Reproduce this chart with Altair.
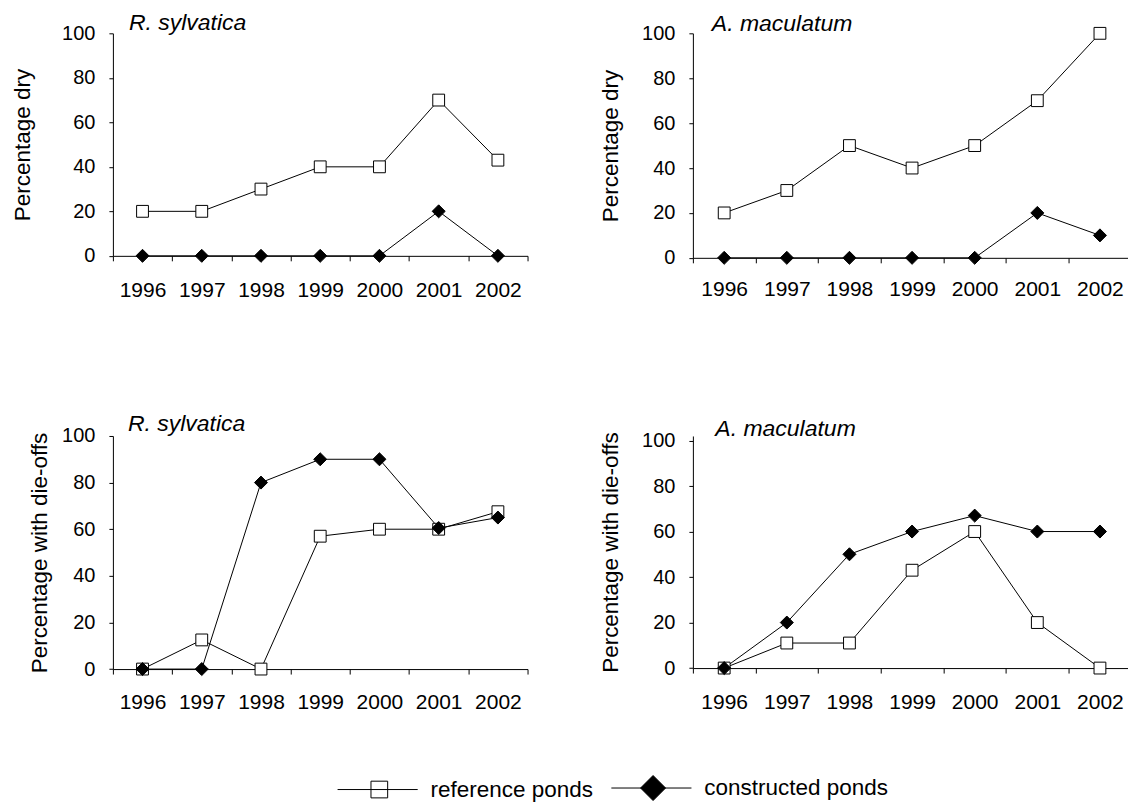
import altair as alt
import pandas as pd

# ---------------- data ----------------
years = [1996, 1997, 1998, 1999, 2000, 2001, 2002]
series_names = ["reference ponds", "constructed ponds"]
species = ["R. sylvatica", "A. maculatum"]
y_titles = ["Percentage dry", "Percentage with die-offs"]
y_ticks = [0, 20, 40, 60, 80, 100]

dry_rsyl_ref = [20, 20, 30, 40, 40, 70, 43]
dry_rsyl_con = [0, 0, 0, 0, 0, 20, 0]
dry_amac_ref = [20, 30, 50, 40, 50, 70, 100]
dry_amac_con = [0, 0, 0, 0, 0, 20, 10]
die_rsyl_ref = [0, 12.5, 0, 57, 60, 60, 67.5]
die_rsyl_con = [0, 0, 80, 90, 90, 60.5, 65]
die_amac_ref = [0, 11, 11, 43, 60, 20, 0]
die_amac_con = [0, 20, 50, 60, 67, 60, 60]

# band boundaries between years, where the x ticks sit
x_bounds = [y - 0.5 for y in years] + [years[-1] + 0.5]

FONT = "Liberation Sans"
REF_PATH = "M-5,0H4.6M-1,-1H1V1H-1Z"
CON_PATH = "M-5,0H4.6M-1.5,0L0,-1.5L1.5,0L0,1.5Z"


def panel(ref, con, title, ytitle, width, height, xmax, ymax, title_x, title_y,
          title_pad, label_pad, legend=False):
    df = pd.DataFrame({
        "year": years * 2,
        "value": ref + con,
        "series": [series_names[0]] * len(years) + [series_names[1]] * len(years),
    })
    base = alt.Chart(df)
    xscale = alt.Scale(domain=[years[0] - 0.5, xmax], nice=False, zero=False)
    # axis with the year labels (no visible ticks)
    x_lab = alt.X(
        "year:Q", scale=xscale,
        axis=alt.Axis(
            values=years, format="d", orient="bottom",
            labelOverlap=False, labelFlush=False, labelFontSize=21,
            labelPadding=label_pad, tickSize=5, tickOpacity=0, title=None,
        ),
    )
    # axis with only the boundary ticks
    x_tck = alt.X(
        "year:Q", scale=xscale,
        axis=alt.Axis(
            values=[v for v in x_bounds if v <= xmax], orient="bottom",
            labels=False, domain=False, tickSize=5, title=None,
        ),
    )
    # no axis for the remaining layers
    x_none = alt.X("year:Q", scale=xscale, axis=None)
    y = alt.Y(
        "value:Q",
        scale=alt.Scale(domain=[0, ymax], nice=False),
        axis=alt.Axis(
            values=y_ticks, tickSize=4, labelPadding=14, labelFontSize=20,
            title=ytitle, titlePadding=title_pad, titleFontSize=22.5,
        ),
    )
    lines = base.mark_line(color="black", strokeWidth=1).encode(
        x=x_lab, y=y, detail="series:N")
    squares = base.transform_filter(alt.datum.series == series_names[0]).mark_point(
        shape="square", filled=True, fill="white", stroke="black", strokeWidth=1,
        size=140, opacity=1).encode(x=x_tck, y=y)
    diamonds = base.transform_filter(alt.datum.series == series_names[1]).mark_point(
        shape="diamond", filled=True, fill="black", stroke="black", strokeWidth=1,
        size=170, opacity=1).encode(x=x_none, y=y)
    label = alt.Chart(pd.DataFrame({"t": [title]})).mark_text(
        font=FONT, fontStyle="italic", fontSize=23, align="left",
        baseline="alphabetic", color="black").encode(
        x=alt.value(title_x), y=alt.value(title_y), text="t:N")
    layers = [lines, squares, diamonds, label]
    if legend:
        lg = alt.Legend(
            orient="none", legendX=255.4, legendY=744, direction="horizontal",
            symbolSize=279, symbolStrokeColor="black", symbolStrokeWidth=1,
            symbolOpacity=1, labelFontSize=22.5, labelFont=FONT,
            labelColor="black", labelOffset=40, columnPadding=15, padding=0,
            labelLimit=400,
        )
        leg = base.transform_filter("false").mark_point(
            filled=True, opacity=1, strokeWidth=1, size=279).encode(
            x=x_none, y=y,
            shape=alt.Shape("series:N", title=None,
                            scale=alt.Scale(domain=series_names, range=[REF_PATH, CON_PATH]),
                            legend=lg),
            fill=alt.Fill("series:N", title=None,
                          scale=alt.Scale(domain=series_names, range=["white", "black"]),
                          legend=lg),
            stroke=alt.Stroke("series:N", title=None,
                              scale=alt.Scale(domain=series_names, range=["black", "black"]),
                              legend=lg),
        )
        layers.append(leg)
    return alt.layer(*layers).resolve_axis(x="independent").properties(
        width=width, height=height)


tl = panel(dry_rsyl_ref, dry_rsyl_con, species[0], y_titles[0], 415, 222.7,
           years[-1] + 0.5, 100, 16, -3, 27.4, 19)
tr = panel(dry_amac_ref, dry_amac_con, species[1], y_titles[0], 435, 224.7,
           years[-1] + 0.44, 100, 19, -2, 19.5, 16)
bl = panel(die_rsyl_ref, die_rsyl_con, species[0], y_titles[1], 415, 233.3,
           years[-1] + 0.5, 100, 15, -5, 10.5, 17.5, legend=True)
br = panel(die_amac_ref, die_amac_con, species[1], y_titles[1], 435, 232.3,
           years[-1] + 0.44, 102, 22.5, 0.5, 19.5, 18.5)

chart = alt.concat(
    tl, tr, bl, br, columns=2, bounds="flush",
    spacing={"row": 178, "column": 165.5},
).properties(
    padding={"left": 11, "top": 12, "right": 0, "bottom": 2},
    background="white",
).configure_view(strokeWidth=0).configure_axis(
    labelFont=FONT, titleFont=FONT, labelColor="black", titleColor="black",
    titleFontWeight="normal", domainColor="black", tickColor="black",
    domainWidth=1, tickWidth=1, grid=False,
).configure_legend(labelFont=FONT)

chart.save("out.html", embed_options={"renderer": "svg", "actions": False})
